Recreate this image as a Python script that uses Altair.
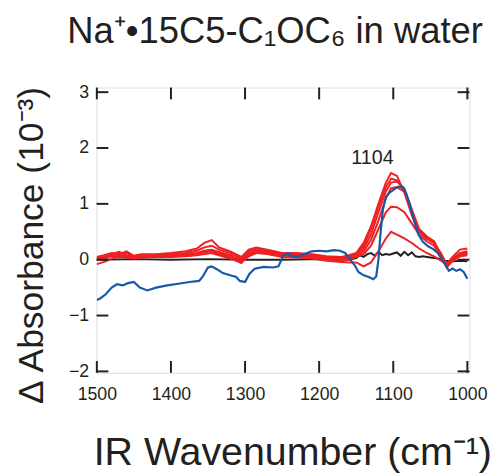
import altair as alt
import pandas as pd

# ---------------- data ----------------
red_x = [1500, 1490, 1480, 1470, 1460, 1450, 1440, 1420, 1400, 1380, 1365, 1355, 1345, 1335,
         1320, 1305, 1295, 1285, 1270, 1250, 1230, 1210, 1190, 1170, 1160, 1150, 1140, 1130,
         1120, 1110, 1103, 1095, 1085, 1075, 1065, 1055, 1045, 1035, 1028, 1020, 1010, 1000]

red_a = [0.05, 0.08, 0.12, 0.10, 0.15, 0.07, 0.10, 0.10, 0.12, 0.15, 0.20, 0.30, 0.35, 0.22,
         0.15, 0.05, 0.18, 0.22, 0.18, 0.12, 0.12, 0.10, 0.06, 0.05, 0.08, 0.12, 0.30, 0.60,
         1.00, 1.38, 1.55, 1.50, 1.20, 0.80, 0.50, 0.38, 0.30, 0.10, -0.08, 0.05, 0.18, 0.20]
red_b = [0.02, 0.05, 0.10, 0.14, 0.08, 0.06, 0.08, 0.09, 0.10, 0.12, 0.16, 0.22, 0.25, 0.18,
         0.12, 0.02, 0.15, 0.20, 0.16, 0.10, 0.10, 0.08, 0.05, 0.03, 0.05, 0.10, 0.25, 0.55,
         0.95, 1.30, 1.45, 1.42, 1.25, 0.85, 0.52, 0.40, 0.32, 0.08, -0.10, 0.02, 0.12, 0.15]
red_c = [0.03, 0.06, 0.08, 0.10, 0.12, 0.05, 0.07, 0.08, 0.09, 0.10, 0.12, 0.16, 0.18, 0.14,
         0.08, -0.02, 0.12, 0.17, 0.14, 0.09, 0.08, 0.06, 0.03, 0.02, 0.04, 0.08, 0.20, 0.45,
         0.85, 1.22, 1.38, 1.40, 1.28, 0.90, 0.55, 0.42, 0.33, 0.06, -0.12, 0.00, 0.10, 0.12]
red_d = [-0.08, -0.04, 0.02, 0.06, 0.05, 0.03, 0.05, 0.06, 0.07, 0.08, 0.10, 0.13, 0.15, 0.10,
         0.03, -0.06, 0.08, 0.15, 0.12, 0.07, 0.06, 0.03, 0.00, -0.02, 0.00, 0.05, 0.15, 0.35,
         0.70, 1.10, 1.28, 1.30, 1.22, 0.88, 0.50, 0.38, 0.30, 0.04, -0.14, -0.02, 0.08, 0.10]
red_e = [0.04, 0.07, 0.10, 0.08, 0.06, 0.05, 0.08, 0.07, 0.08, 0.09, 0.11, 0.14, 0.16, 0.12,
         0.06, 0.00, 0.10, 0.16, 0.13, 0.08, 0.07, 0.05, 0.02, 0.00, 0.02, 0.05, 0.10, 0.25,
         0.55, 0.85, 0.95, 0.94, 0.85, 0.65, 0.45, 0.33, 0.25, 0.05, -0.12, 0.00, 0.10, 0.12]
red_f = [0.00, 0.03, 0.06, 0.05, 0.04, 0.02, 0.04, 0.05, 0.05, 0.06, 0.08, 0.10, 0.12, 0.08,
         0.02, -0.04, 0.06, 0.12, 0.10, 0.05, 0.04, 0.02, -0.02, -0.04, -0.05, -0.05, -0.12, -0.05,
         0.15, 0.38, 0.50, 0.45, 0.38, 0.30, 0.20, 0.12, 0.06, -0.02, -0.10, -0.02, 0.06, 0.08]

blue_x = [1500, 1495, 1488, 1480, 1473, 1465, 1458, 1450, 1442, 1432, 1420, 1405, 1390, 1375,
          1362, 1357, 1350, 1345, 1338, 1330, 1320, 1312, 1307, 1300, 1294, 1287, 1275, 1262,
          1255, 1248, 1242, 1236, 1228, 1220, 1210, 1200, 1190, 1180, 1172, 1165, 1158, 1152,
          1147, 1140, 1133, 1127, 1123, 1120, 1117, 1114, 1110, 1105, 1099, 1093, 1088, 1083,
          1078, 1072, 1066, 1060, 1053, 1046, 1040, 1035, 1030, 1025, 1020, 1015, 1010, 1005, 1000]
blue_y = [-0.72, -0.69, -0.62, -0.50, -0.44, -0.46, -0.42, -0.40, -0.50, -0.55, -0.50, -0.46,
          -0.43, -0.40, -0.38, -0.30, -0.14, -0.12, -0.17, -0.24, -0.28, -0.31, -0.38, -0.40,
          -0.25, -0.16, -0.13, -0.14, -0.12, 0.08, 0.11, 0.06, 0.05, 0.10, 0.15, 0.16, 0.15,
          0.17, 0.16, 0.12, 0.00, -0.10, -0.22, -0.28, -0.31, -0.35, -0.30, 0.00, 0.50, 0.90,
          1.12, 1.20, 1.26, 1.31, 1.30, 1.20, 1.00, 0.70, 0.45, 0.32, 0.24, 0.19, 0.12, 0.02,
          -0.08, -0.20, -0.16, -0.20, -0.17, -0.22, -0.34]

black_x = [1500, 1450, 1400, 1350, 1300, 1250, 1200, 1160, 1150, 1145, 1140, 1135, 1130, 1125,
           1120, 1115, 1110, 1105, 1100, 1095, 1090, 1085, 1080, 1075, 1070, 1065, 1060, 1050,
           1040, 1030, 1020, 1010, 1000]
black_y = [0.00, 0.01, 0.00, 0.01, 0.00, 0.00, 0.01, 0.00, 0.03, 0.08, 0.05, 0.10, 0.12, 0.07,
           0.14, 0.08, 0.10, 0.09, 0.11, 0.13, 0.07, 0.14, 0.08, 0.13, 0.06, 0.05, 0.06, 0.04,
           0.02, -0.02, -0.03, -0.02, -0.03]

x_ticks = [1500, 1400, 1300, 1200, 1100, 1000]
y_ticks = [-2, -1, 0, 1, 2, 3]

annot_text = ["1104"]
annot_x = [1128]
annot_y = [1.82]

TITLE = "Na⁺•15C5-C₁OC₆ in water"
X_TITLE = "IR Wavenumber (cm⁻¹)"
Y_TITLE = "Δ Absorbance (10⁻³)"

# ---------------- frames ----------------
red_sets = {"r1": red_a, "r2": red_b, "r3": red_c, "r4": red_d, "r5": red_e, "r6": red_f}
red_df = pd.concat(
    [pd.DataFrame({"wn": red_x, "abs": v, "series": k}) for k, v in red_sets.items()],
    ignore_index=True)
blue_df = pd.DataFrame({"wn": blue_x, "abs": blue_y})
black_df = pd.DataFrame({"wn": black_x, "abs": black_y})
xt_df = pd.DataFrame({"t": x_ticks})
yt_df = pd.DataFrame({"t": y_ticks})
ann_df = pd.DataFrame({"label": annot_text, "wn": annot_x, "abs": annot_y})
title_df = pd.DataFrame({"label": [TITLE]})

W, H = 379, 290
FONT = "Liberation Sans"
INK = "#231f20"

xscale = alt.Scale(domain=[997.3, 1500.4], reverse=True, nice=False, zero=False)
yscale = alt.Scale(domain=[-2.026, 3.083], nice=False, zero=False)

xenc = alt.X("wn:Q", scale=xscale,
             axis=alt.Axis(values=x_ticks, format="d", title=X_TITLE, ticks=False, domain=False,
                           grid=False, labelFont=FONT, labelFontSize=18, labelColor=INK,
                           labelPadding=13, labelFlush=False, titleFont=FONT, titleFontSize=40,
                           titleFontWeight="normal", titleColor=INK, titleBaseline="alphabetic",
                           titleX=199, titleY=93, titleAlign="center"))
yenc = alt.Y("abs:Q", scale=yscale,
             axis=alt.Axis(values=y_ticks, format="d", title=Y_TITLE, ticks=False, domain=False,
                           grid=False, labelFont=FONT, labelFontSize=18, labelColor=INK,
                           labelPadding=8, labelFlush=False, titleFont=FONT, titleFontSize=36,
                           titleFontWeight="normal", titleColor=INK, titleBaseline="alphabetic",
                           titleX=-55, titleY=160, titleAlign="center", titleAngle=-90))

black_line = alt.Chart(black_df).mark_line(color=INK, strokeWidth=2, clip=True).encode(
    x=xenc, y=yenc)
red_lines = alt.Chart(red_df).mark_line(color="#ee2024", strokeWidth=2, clip=True).encode(
    x=alt.X("wn:Q", scale=xscale), y=alt.Y("abs:Q", scale=yscale), detail="series:N")
blue_line = alt.Chart(blue_df).mark_line(color="#1559a8", strokeWidth=2.2, clip=True).encode(
    x=alt.X("wn:Q", scale=xscale), y=alt.Y("abs:Q", scale=yscale))

ann = alt.Chart(ann_df).mark_text(font=FONT, fontSize=20, color=INK).encode(
    x=alt.X("wn:Q", scale=xscale), y=alt.Y("abs:Q", scale=yscale), text="label:N")

title_txt = alt.Chart(title_df).mark_text(
    font=FONT, fontSize=37, color=INK, align="center", baseline="alphabetic"
).encode(x=alt.value(W / 2 - 8), y=alt.value(-45), text="label:N")

TL = 12
xt_bot = alt.Chart(xt_df).mark_rule(color=INK, strokeWidth=2).encode(
    x=alt.X("t:Q", scale=xscale), y=alt.value(H), y2=alt.value(H - TL))
xt_top = alt.Chart(xt_df).mark_rule(color=INK, strokeWidth=2).encode(
    x=alt.X("t:Q", scale=xscale), y=alt.value(0), y2=alt.value(TL))
yt_left = alt.Chart(yt_df).mark_rule(color=INK, strokeWidth=2).encode(
    y=alt.Y("t:Q", scale=yscale), x=alt.value(0), x2=alt.value(TL))
yt_right = alt.Chart(yt_df).mark_rule(color=INK, strokeWidth=2).encode(
    y=alt.Y("t:Q", scale=yscale), x=alt.value(W), x2=alt.value(W - TL))

chart = alt.layer(
    black_line, red_lines, blue_line, ann, title_txt, xt_bot, xt_top, yt_left, yt_right
).properties(
    width=W, height=H,
    autosize=alt.AutoSizeParams(type="none"),
    padding={"left": 90, "top": 77, "right": 23, "bottom": 100},
).configure_view(stroke=INK, strokeWidth=2).configure(background="white")

chart.save("out.html", embed_options={"renderer": "svg", "actions": False})
